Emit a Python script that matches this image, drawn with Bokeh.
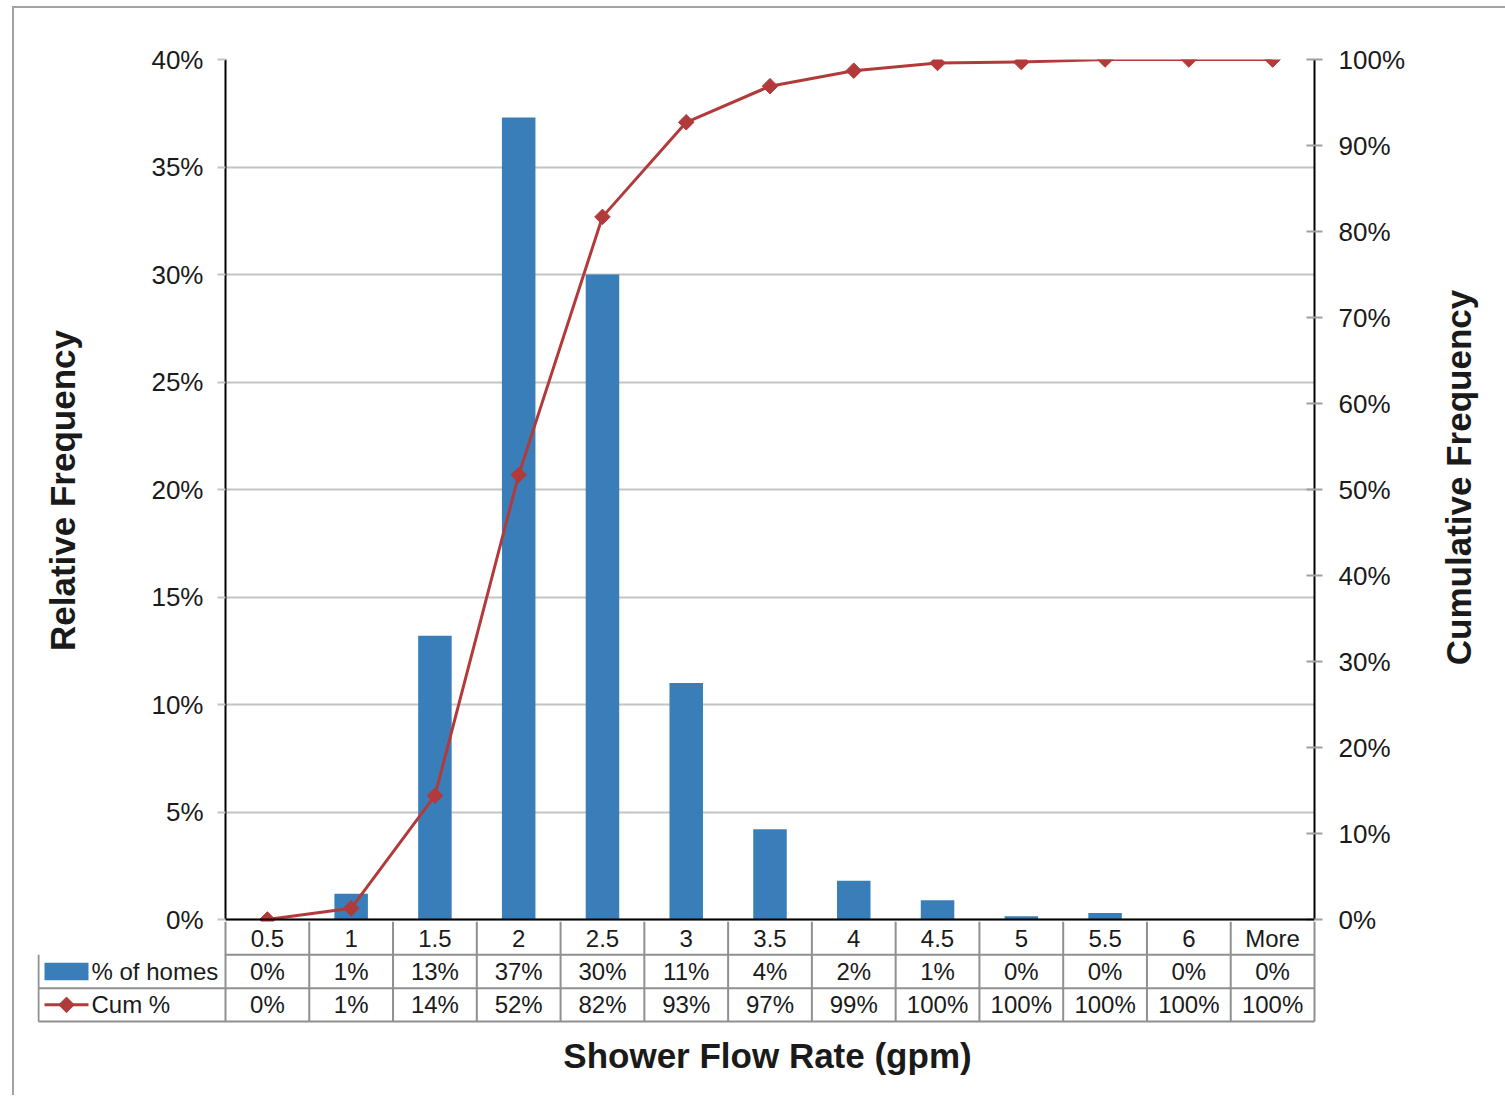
import math
from bokeh.plotting import figure
from bokeh.models import (Range1d, LinearAxis, FixedTicker, PrintfTickFormatter,
                          ColumnDataSource, Column, Row, Span)
from bokeh.core.properties import value
from bokeh.embed import file_html
from bokeh.resources import INLINE

# ---------------- data ----------------
categories = ["0.5", "1", "1.5", "2", "2.5", "3", "3.5", "4", "4.5", "5", "5.5", "6", "More"]
pct_homes = [0, 1.2, 13.2, 37.3, 30.0, 11.0, 4.2, 1.8, 0.9, 0.15, 0.3, 0, 0]
cum_pct = [0, 1.3, 14.4, 51.7, 81.7, 92.7, 96.9, 98.7, 99.6, 99.7, 100, 100, 100]
left_ticks = [0, 5, 10, 15, 20, 25, 30, 35, 40]
right_ticks = [0, 10, 20, 30, 40, 50, 60, 70, 80, 90, 100]
series_names = ["% of homes", "Cum %"]
x_title = "Shower Flow Rate (gpm)"
left_title = "Relative Frequency"
right_title = "Cumulative Frequency"

# ---------------- style / geometry ----------------
FONT = "Liberation Sans"
BAR = "#3A7EB9"
LINE = "#B23A3A"
TXT = "#1a1a1a"
GRID = "#c4c4c4"
TABLE = "#909090"
TICK_FS = "26px"
TITLE_FS = "35px"
TABLE_FS = "24px"

W = 1505
X0, Y0 = 14, 8            # content origin inside the outer border
FL, FR = 225, 1314        # plot frame left / right
FT, ZERO = 59, 919        # y of top (40%) and of 0
FB = 921                  # bottom of top frame
OVER = 24                 # extra canvas below the top frame (overlapped by the table)
RT = 1420                 # left edge of the strip holding the right-hand title
n = len(categories)
ppu = (FR - FL) / n

xs = [i + 0.5 for i in range(n)]
src = ColumnDataSource(dict(x=xs, cat=categories, homes=pct_homes, cum=cum_pct,
                            homes_lbl=[f"{round(v):d}%" for v in pct_homes],
                            cum_lbl=[f"{round(v):d}%" for v in cum_pct]))

# ---------------- main chart ----------------
lmax, rmax = left_ticks[-1], right_ticks[-1]
PH = FB - Y0 + OVER
p = figure(width=RT - X0, height=PH,
           x_range=Range1d(0, n),
           y_range=Range1d(-(FB - ZERO) * lmax / (ZERO - FT), lmax),
           output_backend="svg", toolbar_location=None, x_axis_location=None,
           min_border_left=FL - X0, min_border_right=RT - FR,
           min_border_top=FT - Y0, min_border_bottom=OVER,
           outline_line_color=None, background_fill_color="white",
           border_fill_color="white")
cum_range = Range1d(-(FB - ZERO) * rmax / (ZERO - FT), rmax)
p.extra_y_ranges = {"cum": cum_range}

p.xgrid.visible = False
p.ygrid.ticker = FixedTicker(ticks=left_ticks)
p.ygrid.grid_line_color = GRID
p.ygrid.grid_line_width = 2

ya = p.yaxis[0]
ya.ticker = FixedTicker(ticks=left_ticks)
ya.formatter = PrintfTickFormatter(format="%d%%")
ya.bounds = (0, lmax)
ya.axis_line_color = "black"
ya.axis_line_width = 2
ya.major_tick_in = 0
ya.major_tick_out = 8
ya.major_tick_line_color = GRID
ya.major_tick_line_width = 2
ya.minor_tick_line_color = None
ya.major_label_standoff = 14
ya.major_label_text_font = FONT
ya.major_label_text_font_size = TICK_FS
ya.major_label_text_color = TXT
ya.axis_label = left_title
ya.axis_label_text_font = FONT
ya.axis_label_text_font_size = TITLE_FS
ya.axis_label_text_font_style = "bold"
ya.axis_label_text_color = TXT
ya.axis_label_standoff = 66

ra = LinearAxis(y_range_name="cum", ticker=FixedTicker(ticks=right_ticks),
                formatter=PrintfTickFormatter(format="%d%%"), bounds=(0, rmax))
ra.axis_line_color = "black"
ra.axis_line_width = 2
ra.major_tick_in = 8
ra.major_tick_out = 8
ra.major_tick_line_color = "#a0a0a0"
ra.major_tick_line_width = 2
ra.minor_tick_line_color = None
ra.major_label_standoff = 16
ra.major_label_text_font = FONT
ra.major_label_text_font_size = TICK_FS
ra.major_label_text_color = TXT
p.add_layout(ra, "right")

p.vbar(x="x", top="homes", width=0.4, source=src, fill_color=BAR, line_color=None)
p.add_layout(Span(location=0, dimension="width", line_color="black", line_width=2))
p.line(x="x", y="cum", source=src, y_range_name="cum", line_color=LINE, line_width=3)
p.scatter(x="x", y="cum", source=src, y_range_name="cum", marker="square",
          angle=math.pi / 4, size=11, fill_color=LINE, line_color=LINE)

# ---------------- right-hand axis title strip ----------------
t = figure(width=W - RT, height=PH,
           x_range=Range1d(0, W - RT), y_range=Range1d(cum_range.start, cum_range.end),
           output_backend="svg", toolbar_location=None,
           x_axis_location=None, y_axis_location=None,
           min_border_left=0, min_border_right=0,
           min_border_top=FT - Y0, min_border_bottom=OVER,
           outline_line_color=None, background_fill_color="white",
           border_fill_color="white")
t.grid.visible = False
t.text(x=[1458 - RT], y=[(ZERO - 477) * rmax / (ZERO - FT)], text=[right_title],
       angle=math.pi / 2, text_align="center", text_baseline="middle",
       text_font=value(FONT), text_font_size=TITLE_FS, text_font_style="bold",
       text_color=TXT)

# ---------------- data table below ----------------
TB_BOT = 1021
LEG_L = 38
rows = 3
row_px = 34
ylo = -2 / row_px
fb_h = TB_BOT + 2 - FB
BH = 1095 - FB
xl = (LEG_L - 1 - FL) / ppu
xr = (1497 - FL) / ppu
b = figure(width=W - X0, height=BH,
           x_range=Range1d(xl, xr), y_range=Range1d(ylo, rows),
           output_backend="svg", toolbar_location=None, y_axis_location=None,
           min_border_left=LEG_L - 1 - X0, min_border_right=W - 1497,
           min_border_top=0, min_border_bottom=BH - fb_h,
           outline_line_color=None, background_fill_color=None,
           border_fill_color=None)
b.grid.visible = False
xb = b.xaxis[0]
xb.ticker = FixedTicker(ticks=[])
xb.axis_line_color = None
xb.major_tick_line_color = None
xb.minor_tick_line_color = None
xb.axis_label = x_title
xb.axis_label_text_font = FONT
xb.axis_label_text_font_size = TITLE_FS
xb.axis_label_text_font_style = "bold"
xb.axis_label_text_color = TXT
xb.axis_label_standoff = 12

xleg = (LEG_L - FL) / ppu
# table rules
hx0 = [xleg, xleg, 0]
hx1 = [n, n, n]
hy = [0, 1, 2]
b.segment(x0=hx0, y0=hy, x1=hx1, y1=hy, line_color=TABLE, line_width=2)
vx = list(range(0, n + 1))
b.segment(x0=vx, y0=[0] * len(vx), x1=vx, y1=[rows] * len(vx), line_color=TABLE, line_width=2)
b.segment(x0=[xleg], y0=[0], x1=[xleg], y1=[2], line_color=TABLE, line_width=2)

tf = value(FONT)
b.text(x="x", y=2.5, text="cat", source=src, text_font=tf, text_font_size=TABLE_FS,
       text_align="center", text_baseline="middle", text_color=TXT)
b.text(x="x", y=1.5, text="homes_lbl", source=src, text_font=tf, text_font_size=TABLE_FS,
       text_align="center", text_baseline="middle", text_color=TXT)
b.text(x="x", y=0.5, text="cum_lbl", source=src, text_font=tf, text_font_size=TABLE_FS,
       text_align="center", text_baseline="middle", text_color=TXT)

# legend keys in the table
kx0, kx1 = (44 - FL) / ppu, (88 - FL) / ppu
b.rect(x=[(kx0 + kx1) / 2], y=[1.5], width=kx1 - kx0, height=0.52, fill_color=BAR, line_color=None)
b.segment(x0=[kx0], y0=[0.5], x1=[kx1], y1=[0.5], line_color=LINE, line_width=3)
b.scatter(x=[(kx0 + kx1) / 2], y=[0.5], marker="square", angle=math.pi / 4, size=11,
          fill_color=LINE, line_color=LINE)
b.text(x=[(91 - FL) / ppu] * 2, y=[1.5, 0.5], text=series_names, text_font=tf,
       text_font_size=TABLE_FS, text_align="left", text_baseline="middle", text_color=TXT)

layout = Column(Row(p, t), Row(b, margin=(-OVER, 0, 0, 0)),
                styles={"margin-left": "12px", "margin-top": "6px",
                        "border-left": "2px solid #a3a3a3",
                        "border-top": "2px solid #a3a3a3"})

open("out.html", "w").write(file_html(layout, INLINE))
